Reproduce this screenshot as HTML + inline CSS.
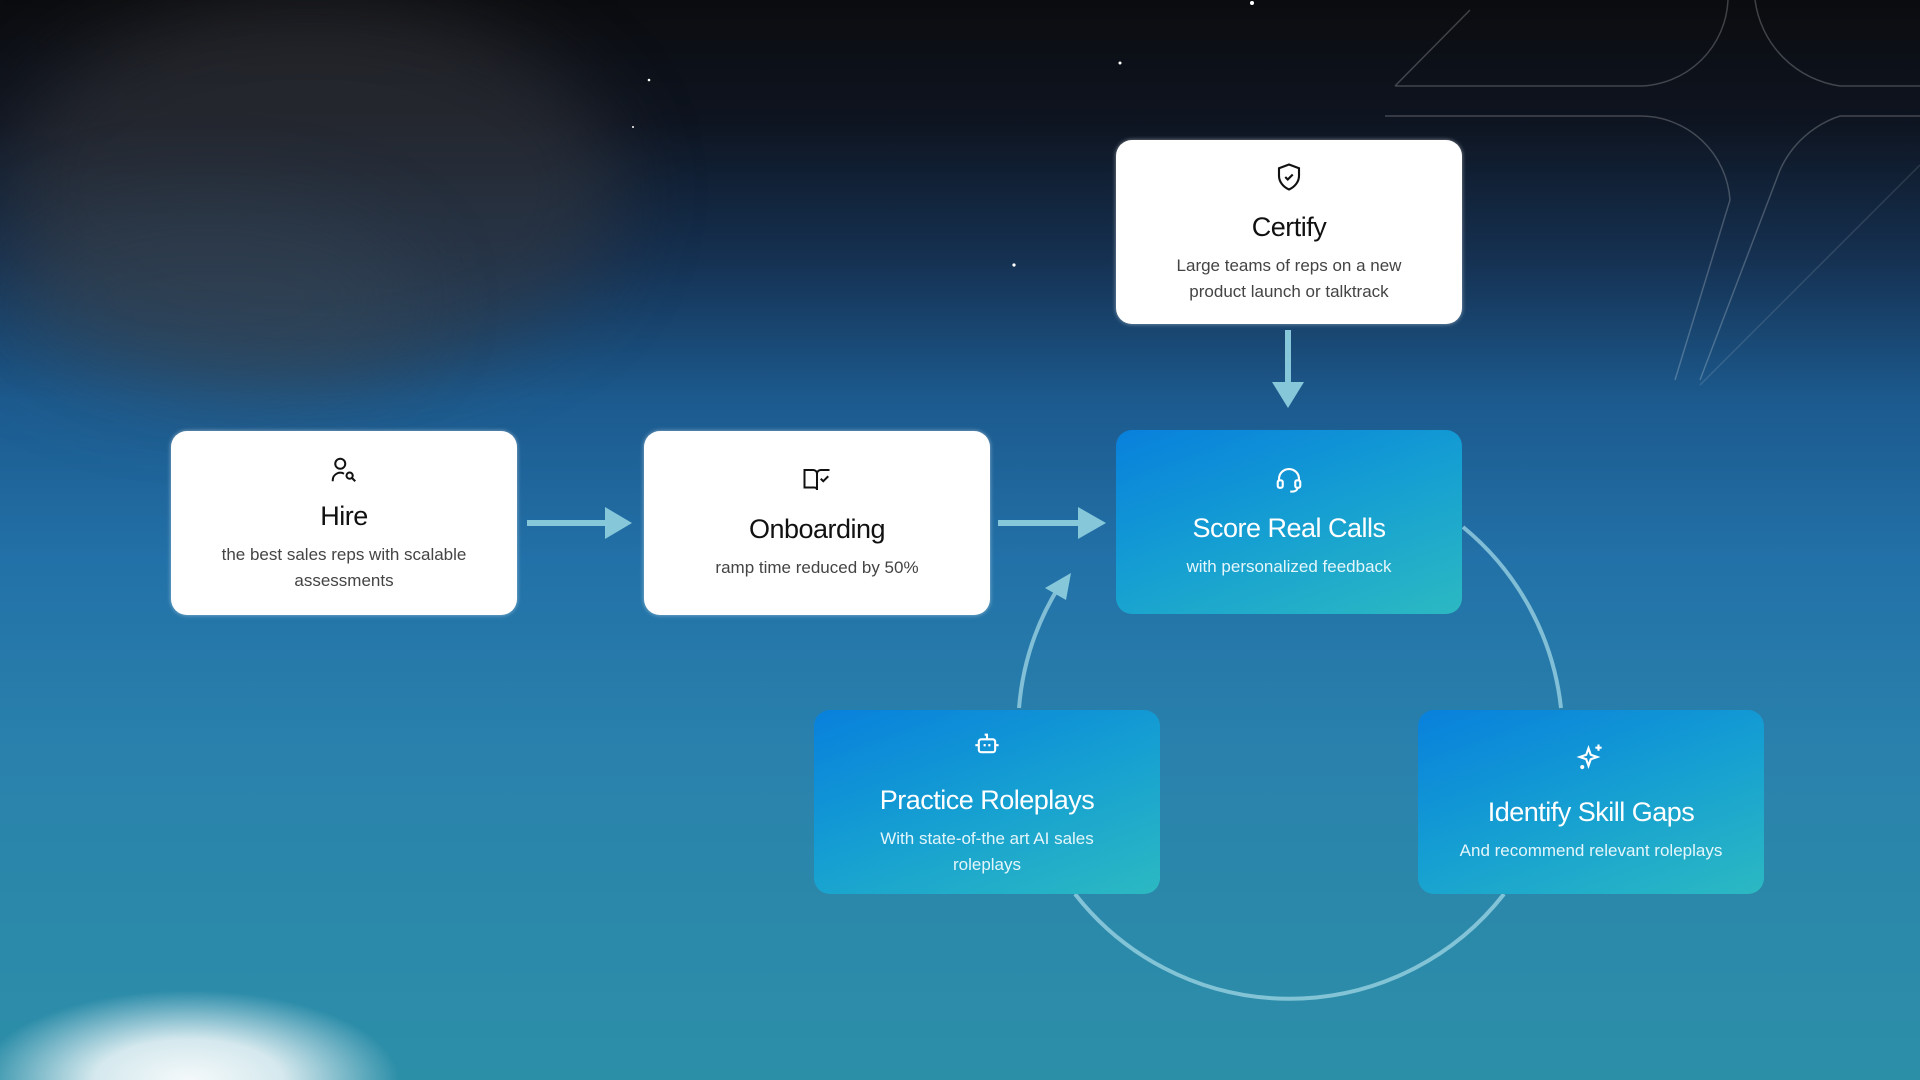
<!DOCTYPE html>
<html><head><meta charset="utf-8"><style>
html,body{margin:0;padding:0;width:1920px;height:1080px;overflow:hidden}
body{position:relative;font-family:"Liberation Sans",sans-serif;
background:linear-gradient(180deg,#0b0c0f 0px,#0e1420 120px,#153152 260px,#1c5a8e 400px,#2271a8 560px,#2a82ac 760px,#2c8fa8 1080px);}
.cloud{position:absolute;border-radius:50%;filter:blur(40px)}
.box{position:absolute;width:346px;height:184px;border-radius:16px;box-sizing:border-box;text-align:center;}
.w{background:#fff;color:#111;box-shadow:0 0 4px rgba(255,255,255,.5)}
.b{background:linear-gradient(160deg,#0880dc 0%,#159fd2 50%,#2cb9c2 100%);color:#fff}
.t{font-size:27px;font-weight:500;letter-spacing:-0.5px}
.s{font-size:17px;line-height:26px;color:#444}
.b .s{color:#e4f6fb}
.ic{position:absolute;left:50%;transform:translateX(-50%)}
</style></head><body>
<div style="position:absolute;left:0;top:0;width:1920px;height:1080px;overflow:hidden">
<div class="cloud" style="left:0px;top:0px;width:620px;height:380px;background:rgba(58,58,62,.5)"></div>
<div class="cloud" style="left:0px;top:200px;width:420px;height:200px;background:rgba(60,75,90,.3)"></div>
<div style="position:absolute;left:0;top:990px;width:420px;height:90px;background:radial-gradient(ellipse 50% 100% at 45% 100%,rgba(255,255,255,.95) 0%,rgba(255,255,255,.8) 45%,rgba(255,255,255,0) 100%)"></div>
</div>
<svg width="1920" height="1080" style="position:absolute;left:0;top:0">
<g fill="#fff"><circle cx="1252" cy="3" r="2"/><circle cx="1120" cy="63" r="1.5"/><circle cx="649" cy="80" r="1.3"/><circle cx="1014" cy="265" r="1.6"/><circle cx="633" cy="127" r="1"/></g>
<g fill="none" stroke="rgba(255,255,255,.22)" stroke-width="1.5">
<path d="M1395 86 L1470 10 M1395 86 L1640 86 A90 90 0 0 0 1728 0"/>
<path d="M1755 0 A100 100 0 0 0 1840 86 L1920 86"/>
<path d="M1385 116 L1640 116 A90 90 0 0 1 1730 200 L1675 380"/>
<path d="M1920 116 L1840 116 A100 100 0 0 0 1780 170 L1700 380"/>
<path d="M1920 165 L1700 385" stroke="rgba(255,255,255,.12)"/>
</g>
<g fill="none" stroke="rgba(160,215,230,.75)" stroke-width="4">
<path d="M1019 708 A272 272 0 0 1 1060 585"/>
<path d="M1463 527 A272 272 0 0 1 1561 708"/>
<path d="M1504 894 A272 272 0 0 1 1075 894"/>
</g>
<g fill="#86c8d9">
<rect x="527" y="520" width="80" height="6"/><polygon points="605,507 632,523 605,539"/>
<rect x="998" y="520" width="82" height="6"/><polygon points="1078,507 1106,523 1078,539"/>
<rect x="1285" y="330" width="6" height="54"/><polygon points="1272,382 1304,382 1288,408"/>
<polygon points="1071,573 1045,588 1066,600"/>
</g>
</svg>

<div class="box w" style="left:171px;top:431px">
<svg class="ic" style="top:24px" width="30" height="30" viewBox="0 0 24 24" fill="none" stroke="#111" stroke-width="1.6"><circle cx="9" cy="7" r="4"/><path d="M3 21v-1a6 6 0 0 1 9-5"/><circle cx="16.5" cy="16.5" r="2.5"/><path d="M18.5 18.5L21 21"/></svg>
<div class="t" style="margin-top:70px">Hire</div>
<div class="s" style="margin-top:10px">the best sales reps with scalable<br>assessments</div></div>

<div class="box w" style="left:644px;top:431px">
<svg class="ic" style="top:34px" width="30" height="30" viewBox="0 0 24 24" fill="none" stroke="#111" stroke-width="1.6"><path d="M2 4h7a3 3 0 0 1 3 3v13a2 2 0 0 0-2-2H2z"/><path d="M22 4h-7a3 3 0 0 0-3 3v13"/><path d="M15 11l2 2 4-4"/></svg>
<div class="t" style="margin-top:83px">Onboarding</div>
<div class="s" style="margin-top:10px">ramp time reduced by 50%</div></div>

<div class="box w" style="left:1116px;top:140px">
<svg class="ic" style="top:22px" width="30" height="30" viewBox="0 0 24 24" fill="none" stroke="#111" stroke-width="1.7"><path d="M12 2l8 3v6c0 5-3.5 9-8 11-4.5-2-8-6-8-11V5z"/><path d="M9 12l2 2 4-4"/></svg>
<div class="t" style="margin-top:72px">Certify</div>
<div class="s" style="margin-top:10px">Large teams of reps on a new<br>product launch or talktrack</div></div>

<div class="box b" style="left:1116px;top:430px">
<svg class="ic" style="top:34px" width="30" height="30" viewBox="0 0 24 24" fill="none" stroke="#fff" stroke-width="1.7"><path d="M4 14v-2a8 8 0 0 1 16 0v2"/><rect x="3" y="13" width="4" height="6" rx="1.5"/><rect x="17" y="13" width="4" height="6" rx="1.5"/><path d="M19 19a4 4 0 0 1-4 3h-2"/></svg>
<div class="t" style="margin-top:83px">Score Real Calls</div>
<div class="s" style="margin-top:10px">with personalized feedback</div></div>

<div class="box b" style="left:814px;top:710px">
<svg class="ic" style="top:20px" width="28" height="28" viewBox="0 0 24 24" fill="none" stroke="#fff" stroke-width="1.8"><rect x="5" y="8" width="14" height="11" rx="2"/><path d="M12 8V4h-2"/><path d="M10 12v2M14 12v2M2 13h3M19 13h3"/></svg>
<div class="t" style="margin-top:75px">Practice Roleplays</div>
<div class="s" style="margin-top:10px">With state-of-the art AI sales<br>roleplays</div></div>

<div class="box b" style="left:1418px;top:710px">
<svg class="ic" style="top:32px" width="30" height="30" viewBox="0 0 24 24" fill="none" stroke="#fff" stroke-width="1.7"><path d="M10 5l1.8 5.2L17 12l-5.2 1.8L10 19l-1.8-5.2L3 12l5.2-1.8z"/><path d="M18 2v5M15.5 4.5h5"/><circle cx="5" cy="20" r=".8" fill="#fff"/></svg>
<div class="t" style="margin-top:87px">Identify Skill Gaps</div>
<div class="s" style="margin-top:10px">And recommend relevant roleplays</div></div>
</body></html>
